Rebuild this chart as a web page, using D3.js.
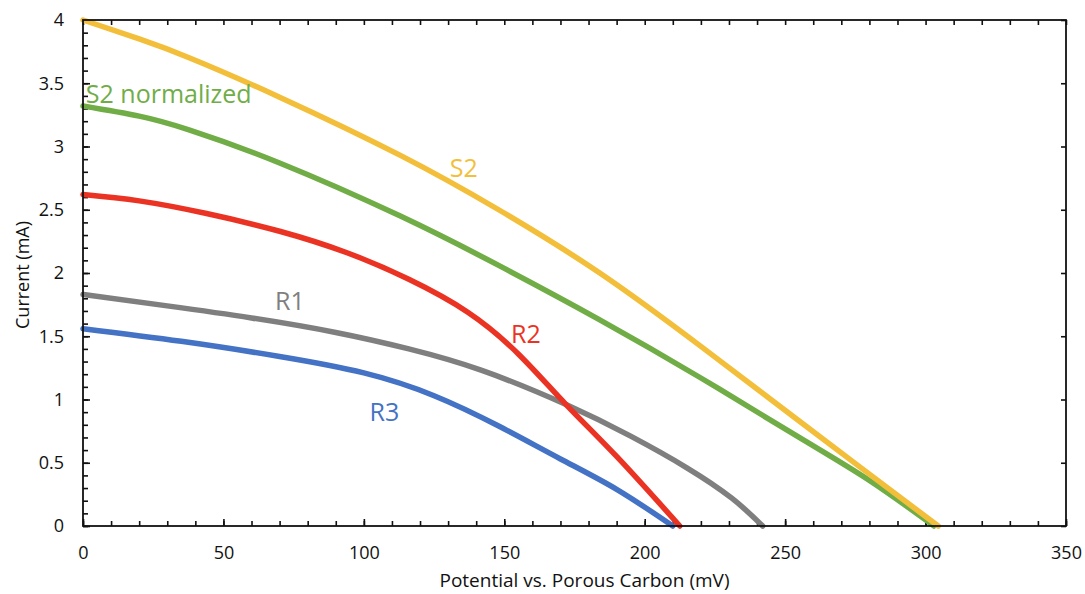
<!DOCTYPE html>
<html>
<head>
<meta charset="utf-8">
<script src="https://cdn.jsdelivr.net/npm/d3@7"></script>
<style>
  body { margin: 0; background: #fff; }
  #chart { width: 1085px; height: 594px; }
  text { font-family: "Open Sans", "Liberation Sans", sans-serif; }
</style>
</head>
<body>
<div id="chart"></div>
<script>
// curves: [potential mV, current mA]
var s2 = [[0, 4.0], [20, 3.85], [38, 3.70], [70, 3.39], [113, 2.93], [148, 2.50], [184, 2.00], [220, 1.42], [255, 0.83], [280, 0.41], [304.5, 0]];
var s2norm = [[0, 3.32], [20, 3.24], [38, 3.13], [70, 2.87], [113, 2.45], [148, 2.06], [184, 1.63], [220, 1.17], [255, 0.70], [280, 0.36], [303, 0]];
var r2 = [[0, 2.62], [20, 2.57], [44, 2.47], [70, 2.33], [94, 2.16], [116, 1.95], [137, 1.69], [155, 1.36], [172, 0.96], [190, 0.55], [212.5, 0]];
var r1 = [[0, 1.83], [30, 1.74], [60, 1.645], [90, 1.53], [116, 1.40], [142, 1.23], [172, 0.96], [195, 0.71], [215, 0.46], [231, 0.22], [242, 0]];
var r3 = [[0, 1.56], [35, 1.46], [70, 1.34], [100, 1.21], [125, 1.03], [148, 0.79], [170, 0.53], [190, 0.29], [210, 0]];

var xTicks = [0, 50, 100, 150, 200, 250, 300, 350];
var yTicks = [0, 0.5, 1, 1.5, 2, 2.5, 3, 3.5, 4];

var series = [
  { name: "S2", data: s2, color: "#F3BF3A", lx: 130.6, ly: 2.76 },
  { name: "S2 normalized", data: s2norm, color: "#70AD47", lx: 1, ly: 3.34 },
  { name: "R2", data: r2, color: "#EA3323", lx: 152.4, ly: 1.45 },
  { name: "R1", data: r1, color: "#7F7F7F", lx: 68.4, ly: 1.71 },
  { name: "R3", data: r3, color: "#4472C4", lx: 102, ly: 0.83 }
];
// back to front
var drawOrder = ["R3", "R1", "R2", "S2 normalized", "S2"];

var margin = { top: 20, right: 19, bottom: 68, left: 83 };
var width = 1085 - margin.left - margin.right;
var height = 594 - margin.top - margin.bottom;

var svg = d3.select("#chart").append("svg")
    .attr("width", 1085)
    .attr("height", 594)
  .append("g")
    .attr("transform", "translate(" + margin.left + "," + margin.top + ")");

var x = d3.scaleLinear().domain([0, 350]).range([0, width]);
var y = d3.scaleLinear().domain([0, 4]).range([height, 0]);

// minor ticks, all pointing inward
var minorX = d3.range(0, 351, 10);
var minorY = d3.range(0, 4.001, 0.1);

function noDomain(g) { g.select(".domain").remove(); }

svg.append("g")
    .attr("transform", "translate(0," + height + ")")
    .call(d3.axisTop(x).tickValues(minorX).tickSize(5).tickFormat(""))
    .call(noDomain);
svg.append("g")
    .call(d3.axisBottom(x).tickValues(minorX).tickSize(5).tickFormat(""))
    .call(noDomain);
svg.append("g")
    .call(d3.axisRight(y).tickValues(minorY).tickSize(5).tickFormat(""))
    .call(noDomain);
svg.append("g")
    .attr("transform", "translate(" + width + ",0)")
    .call(d3.axisLeft(y).tickValues(yTicks).tickSize(5).tickFormat(""))
    .call(noDomain);

// major ticks bottom/left a little longer
svg.append("g")
    .attr("transform", "translate(0," + height + ")")
    .call(d3.axisTop(x).tickValues(xTicks).tickSize(7).tickFormat(""))
    .call(noDomain);
svg.append("g")
    .call(d3.axisRight(y).tickValues(yTicks).tickSize(7).tickFormat(""))
    .call(noDomain);

svg.selectAll(".tick line").attr("stroke", "#111").attr("stroke-width", 1.6);

// tick labels
var xLab = svg.append("g")
    .attr("transform", "translate(0," + height + ")")
    .call(d3.axisBottom(x).tickValues(xTicks).tickSize(0).tickPadding(20).tickFormat(d3.format("d")));
xLab.select(".domain").remove();
xLab.selectAll("text").attr("font-size", 18).attr("fill", "#111")
    .style("font-family", "'Open Sans', sans-serif");

var yLab = svg.append("g")
    .call(d3.axisLeft(y).tickValues(yTicks).tickSize(0).tickPadding(19).tickFormat(function(d) { return d; }));
yLab.select(".domain").remove();
yLab.selectAll("text").attr("font-size", 18).attr("fill", "#111")
    .style("font-family", "'Open Sans', sans-serif");

// curves
var line = d3.line()
    .x(function(d) { return x(d[0]); })
    .y(function(d) { return y(d[1]); })
    .curve(d3.curveNatural);

drawOrder.forEach(function(n) {
  var s = series.find(function(k) { return k.name === n; });
  svg.append("path")
      .datum(s.data)
      .attr("fill", "none")
      .attr("stroke", s.color)
      .attr("stroke-width", 5.5)
      .attr("stroke-linecap", "round")
      .attr("d", line);
});

// frame
svg.append("rect")
    .attr("width", width)
    .attr("height", height)
    .attr("fill", "none")
    .attr("stroke", "#111")
    .attr("stroke-width", 1.8);

// series labels
series.forEach(function(s) {
  svg.append("text")
      .attr("x", x(s.lx))
      .attr("y", y(s.ly))
      .attr("fill", s.color)
      .attr("font-size", 25)
      .text(s.name);
});

// axis titles
svg.append("text")
    .attr("x", width / 2 + 10)
    .attr("y", height + 61)
    .attr("text-anchor", "middle")
    .attr("font-size", 19)
    .attr("fill", "#111")
    .text("Potential vs. Porous Carbon (mV)");

svg.append("text")
    .attr("transform", "rotate(-90)")
    .attr("x", -height / 2 - 2)
    .attr("y", -margin.left + 29)
    .attr("text-anchor", "middle")
    .attr("font-size", 18)
    .attr("fill", "#111")
    .text("Current (mA)");
</script>
</body>
</html>
